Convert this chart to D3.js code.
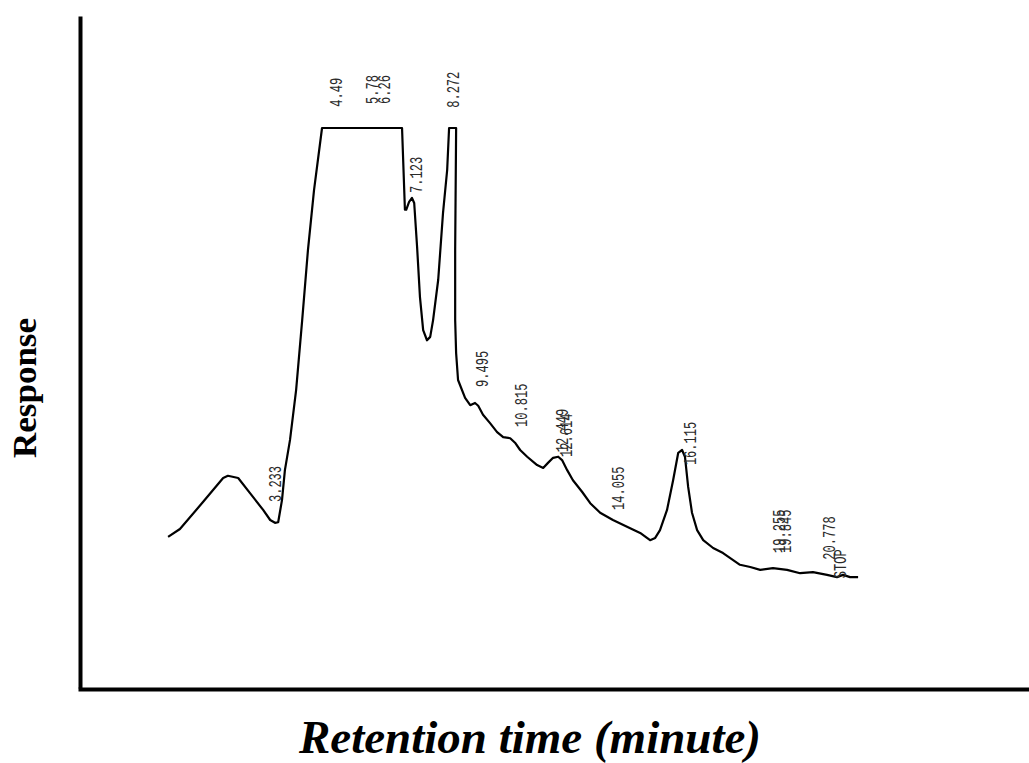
<!DOCTYPE html>
<html>
<head>
<meta charset="utf-8">
<script src="https://cdn.jsdelivr.net/npm/d3@7"></script>
<style>
    body { margin: 0; background: #fff; }
    svg { display: block; }
    .peak-label { font-family: "Liberation Mono", "DejaVu Sans Mono", monospace; font-size: 18px; fill: #2a2a2a; }
    .axis-title { font-family: "Liberation Serif", "Times New Roman", serif; font-weight: bold; fill: #000; }
</style>
</head>
<body>
<div id="chart-container"></div>
<script>
// retention time (min) and detector response (arbitrary units, 100 = recorder full scale)
const traceTime = [
    -0.06, 0.31, 1.03, 1.66, 1.81, 2.13, 2.50, 2.91, 3.13, 3.28, 3.38, 3.50, 3.59, 3.75,
    3.94, 4.13, 4.31, 4.50, 4.75, 7.25, 7.34, 7.38, 7.47, 7.56, 7.63, 7.72, 7.81, 7.91,
    8.03, 8.13, 8.22, 8.38, 8.53, 8.66, 8.72, 8.94, 8.91, 8.91, 8.94, 9.00, 9.22, 9.38,
    9.53, 9.63, 9.78, 10.00, 10.22, 10.41, 10.63, 10.78, 10.94, 11.16, 11.47, 11.66, 11.81,
    11.97, 12.13, 12.25, 12.41, 12.59, 12.88, 13.13, 13.44, 13.84, 14.28, 14.69, 15.00,
    15.16, 15.31, 15.53, 15.72, 15.88, 16.00, 16.09, 16.19, 16.31, 16.47, 16.66, 16.97,
    17.28, 17.81, 18.13, 18.44, 18.84, 19.28, 19.69, 20.09, 20.53, 20.84, 21.03, 21.25, 21.50
];
const traceResponse = [
    27.0, 28.4, 33.2, 37.5, 37.9, 37.5, 34.8, 31.8, 30.0, 29.5, 29.6, 33.6, 38.9, 44.3,
    53.2, 65.7, 78.2, 88.9, 100, 100, 85.4, 85.4, 86.8, 87.5, 86.6, 78.8, 69.8, 63.9,
    62.1, 62.7, 65.7, 72.9, 84.8, 92.5, 100, 100, 78.2, 65.7, 59.8, 55.0, 51.8, 50.5,
    50.9, 50.4, 48.8, 47.3, 45.7, 44.8, 44.6, 43.8, 42.5, 41.3, 39.8, 39.3, 40.2,
    41.1, 41.3, 40.7, 38.9, 37.1, 35.0, 33.0, 31.3, 30.0, 28.8, 27.7, 26.4,
    26.8, 28.2, 31.8, 37.1, 42.0, 42.5, 41.3, 35.9, 31.3, 28.2, 26.4, 25.0,
    24.1, 22.0, 21.6, 21.1, 21.4, 21.1, 20.5, 20.7, 20.2, 19.8, 20.2, 19.8, 19.8
];

// integrator printout: label text and where it sits on the chart paper
const peakLabels = ["3.233", "4.49", "5.78", "6.26", "7.123", "8.272", "9.495", "10.815",
    "12.449", "12.614", "14.055", "16.115", "19.255", "19.845", "20.778", "STOP"];
const peakLabelTime = [3.47, 5.38, 6.50, 6.88, 7.88, 9.03, 9.94, 11.16,
    12.44, 12.56, 14.19, 16.44, 19.22, 19.41, 20.78, 21.13];
const peakLabelResponse = [33.2, 103.8, 104.3, 104.3, 88.4, 103.6, 53.75, 46.6,
    42.1, 41.25, 31.8, 39.8, 24.1, 24.1, 22.9, 19.6];

const xTitle = "Retention time (minute)";
const yTitle = "Response";

const W = 1029;
const H = 763;

const svg = d3.select("#chart-container")
    .append("svg")
    .attr("width", W)
    .attr("height", H);

const xScale = d3.scaleLinear()
    .domain([-2.875, 26.84])
    .range([78, 1029]);

const yScale = d3.scaleLinear()
    .domain([0, 120])
    .range([688, 16]);

// axes: plain frame lines, no ticks
svg.append("g")
    .attr("transform", "translate(0,689)")
    .call(d3.axisBottom(xScale).ticks(0).tickSizeOuter(0))
    .select(".domain")
    .attr("stroke", "#000")
    .attr("stroke-width", 4);

svg.append("g")
    .attr("transform", "translate(80,0)")
    .call(d3.axisLeft(yScale).ticks(0).tickSizeOuter(0))
    .select(".domain")
    .attr("stroke", "#000")
    .attr("stroke-width", 4);

const trace = traceTime.map((t, i) => ({ t: t, r: traceResponse[i] }));

const line = d3.line()
    .x(d => xScale(d.t))
    .y(d => yScale(d.r));

svg.append("path")
    .datum(trace)
    .attr("d", line)
    .attr("fill", "none")
    .attr("stroke", "#000")
    .attr("stroke-width", 2.2)
    .attr("stroke-linejoin", "round");

svg.selectAll(".peak-label")
    .data(peakLabels)
    .enter()
    .append("text")
    .attr("class", "peak-label")
    .attr("transform", (d, i) =>
        `translate(${xScale(peakLabelTime[i])},${yScale(peakLabelResponse[i])}) rotate(-90) scale(0.67,1)`)
    .text(d => d);

svg.append("text")
    .attr("class", "axis-title")
    .attr("x", 530)
    .attr("y", 753)
    .attr("text-anchor", "middle")
    .style("font-style", "italic")
    .style("font-size", "46px")
    .attr("textLength", 462)
    .attr("lengthAdjust", "spacingAndGlyphs")
    .text(xTitle);

svg.append("text")
    .attr("class", "axis-title")
    .attr("transform", "translate(36,388) rotate(-90)")
    .attr("text-anchor", "middle")
    .style("font-size", "34px")
    .attr("textLength", 140)
    .attr("lengthAdjust", "spacingAndGlyphs")
    .text(yTitle);
</script>
</body>
</html>
